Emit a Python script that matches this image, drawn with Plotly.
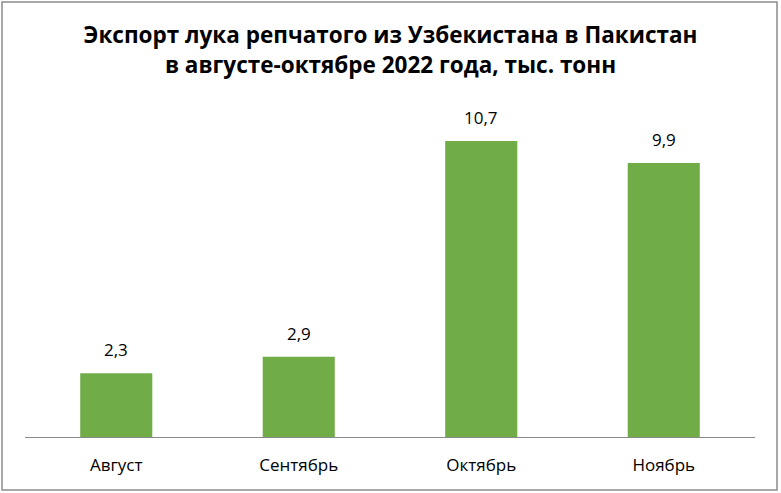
import plotly.graph_objects as go

months = ["Август", "Сентябрь", "Октябрь", "Ноябрь"]
values = [2.3, 2.9, 10.7, 9.9]
labels = ["2,3", "2,9", "10,7", "9,9"]

W, H = 781, 493
L, R, T, B = 25, 26, 105, 56
pw = W - L - R
ph = H - T - B

fig = go.Figure()
fig.add_trace(go.Bar(x=months, y=values, hoverinfo="x+y",
                     marker=dict(color="#70AD47", line=dict(width=0)),
                     width=0.395))

# value labels above the bars
for m, v, t in zip(months, values, labels):
    fig.add_annotation(x=m, y=v, text=t, showarrow=False, yanchor="bottom",
                       yshift=10, font=dict(size=17, color="#000000"))

fig.update_layout(
    width=W, height=H,
    margin=dict(l=L, r=R, t=T, b=B),
    paper_bgcolor="white", plot_bgcolor="white",
    font=dict(family="Open Sans, sans-serif", color="#000000"),
    title=dict(text="<b>Экспорт лука репчатого из Узбекистана в Пакистан<br>в августе-октябре 2022 года, тыс. тонн</b>",
               x=0.5, xanchor="center", y=0.912, yanchor="middle",
               font=dict(size=22.5, color="#000000")),
    showlegend=False,
)
fig.update_xaxes(showline=True, linecolor="#898989", linewidth=1, ticks="",
                 ticklabelstandoff=13,
                 tickfont=dict(size=17, color="#000000"), showgrid=False)
fig.update_yaxes(range=[0, 12], visible=False, showgrid=False)

# border round the chart
fig.add_shape(type="rect", xref="paper", yref="paper",
              x0=(2 - L) / pw, x1=(777 - L) / pw,
              y0=-(490 - T - ph) / ph, y1=1 + (T - 2) / ph,
              line=dict(color="#8c8c8c", width=1.5), fillcolor="rgba(0,0,0,0)")

fig.write_html("out.html", config={"displayModeBar": False},
               post_script="document.body.style.margin='0';")
